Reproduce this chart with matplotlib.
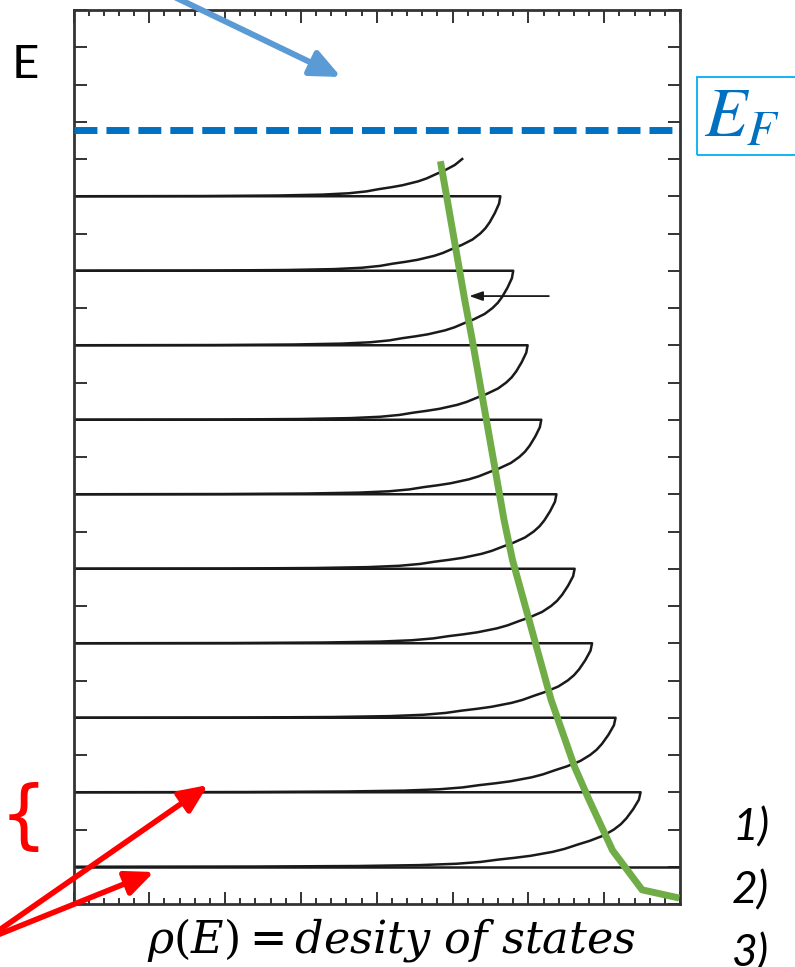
import numpy as np
import matplotlib
matplotlib.use("Agg")
import matplotlib.pyplot as plt
from matplotlib.patches import FancyArrowPatch, Rectangle

plt.rcParams['mathtext.fontset'] = 'stix'

# Landau level energies (units of hbar*omega) and the DOS peak reached just below each level
level_E = [0.5, 1.5, 2.5, 3.5, 4.5, 5.5, 6.5, 7.5, 8.5, 9.5]
level_peak = [8.0, 7.48, 7.15, 6.84, 6.61, 6.37, 6.17, 5.99, 5.80, 5.63]

# partly filled band above the last level
top_band_peak = 5.38
top_band_cut = 0.5

# shape of one band: fraction of the gap above the lower level (t) vs fraction of the peak (r)
band_t = [0.0, 0.003, 0.01, 0.022, 0.04, 0.065, 0.095, 0.12, 0.147, 0.2, 0.24, 0.3,
          0.347, 0.42, 0.5, 0.57, 0.65, 0.773, 0.9, 1.0]
band_r = [0.0, 0.32, 0.50, 0.61, 0.675, 0.718, 0.748, 0.778, 0.806, 0.845, 0.866, 0.89,
          0.91, 0.935, 0.953, 0.965, 0.975, 0.987, 0.997, 1.0]

# envelope through the band edges
env_rho = [4.84, 4.93, 5.16, 5.26, 5.68, 5.79, 6.30, 6.61, 6.80, 7.11, 7.50, 7.99]
env_E = [9.97, 9.45, 8.11, 7.57, 5.15, 4.62, 2.74, 1.84, 1.40, 0.72, 0.19, 0.08]

E_fermi = 10.39

W, H = 795, 967


def px(x, y):
    """pixel position (from top left) -> figure fraction"""
    return x / W, 1 - y / H


fig = plt.figure(figsize=(W / 100, H / 100), dpi=100)
ax = fig.add_axes([73.5 / W, 63 / H, 606.5 / W, 894 / H])

line_kw = dict(color='#1a1a1a', lw=1.8, solid_joinstyle='round')

# the bands, each one closed by a flat line at its level
for i, (E, peak) in enumerate(zip(level_E, level_peak)):
    if i == 0:
        ax.plot([0, peak], [E, E], **line_kw)
        continue
    gap = E - level_E[i - 1]
    xs = [peak * r for r in band_r] + [0]
    ys = [level_E[i - 1] + gap * t for t in band_t] + [E]
    ax.plot(xs, ys, **line_kw)

# upper band, cut part way
xs = [top_band_peak * r for r, t in zip(band_r, band_t) if t <= top_band_cut]
ys = [level_E[-1] + t for t in band_t if t <= top_band_cut]
ax.plot(xs, ys, **line_kw)

# small pointer arrow
ax.annotate('', xy=(5.22, 8.16), xytext=(6.27, 8.16),
            arrowprops=dict(arrowstyle='-|>,head_length=0.8,head_width=0.28', lw=1.3,
                            color='#1a1a1a', shrinkA=0, shrinkB=0, mutation_scale=10))

# envelope
ax.plot(env_rho, env_E, color='#70AD47', lw=5, solid_capstyle='butt',
        solid_joinstyle='round', clip_on=False, zorder=5)

# Fermi level
ax.plot([0, 7.9], [E_fermi, E_fermi], color='#0070C0', lw=5, dashes=(3.3, 1.3),
        dash_capstyle='butt', zorder=5)

ax.set_xlim(0, 8)
ax.set_ylim(0, 12)
ax.set_xticks(np.arange(0, 8.01, 1))
ax.set_xticks(np.arange(0, 8.01, 0.2), minor=True)
ax.set_yticks(np.arange(0, 12.01, 0.5))
ax.tick_params(which='both', direction='in', top=True, right=True,
               labelbottom=False, labelleft=False, color='#333333', width=1.4)
ax.tick_params(which='major', length=9)
ax.tick_params(which='minor', length=4.5)
for sp in ax.spines.values():
    sp.set_linewidth(2)
    sp.set_color('#333333')

# labels around the frame
fig.text(*px(12, 78), 'E', fontsize=34, family='Lato', va='baseline', ha='left')

fig.add_artist(Rectangle(px(697, 155), 110 / W, 78 / H, transform=fig.transFigure,
                         fill=False, ec='#00B0F0', lw=1.3, clip_on=False))
fig.text(*px(704, 136), r'$E_F$', fontsize=50, color='#0070C0', va='baseline', ha='left')

fig.text(*px(392, 952), r'$\rho(E) = desity\ of\ states$', fontsize=32,
         math_fontfamily='dejavuserif', ha='center', va='baseline')

for lab, y in zip(['1)', '2)', '3)'], [840, 903, 966]):
    fig.text(*px(732, y), lab, fontsize=32, style='italic', family='Lato',
             va='baseline', ha='left')

fig.text(*px(0, 818), '{', fontsize=54, color='red', family='DejaVu Sans',
         ha='left', va='center')

# arrows drawn over the figure
fig.add_artist(FancyArrowPatch(px(160, -10), px(341, 77), transform=fig.transFigure,
                               arrowstyle='-|>,head_length=1.8,head_width=0.8',
                               mutation_scale=10, lw=4.3, color='#5B9BD5',
                               shrinkA=0, shrinkB=0))
for tip in [(208, 785), (154, 872)]:
    fig.add_artist(FancyArrowPatch(px(-15, 940), px(*tip), transform=fig.transFigure,
                                   arrowstyle='-|>,head_length=1.7,head_width=0.75',
                                   mutation_scale=10, lw=4, color='red',
                                   shrinkA=0, shrinkB=0))

fig.savefig('out.png', dpi=100)
